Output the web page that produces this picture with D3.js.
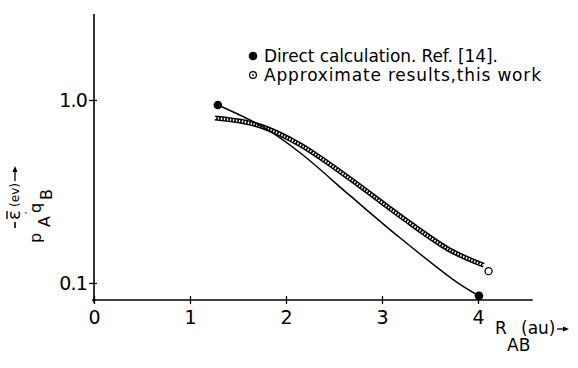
<!doctype html>
<html lang="en">
<head>
  <meta charset="utf-8">
  <title>Pair energy vs R_AB</title>
  <script src="https://cdnjs.cloudflare.com/ajax/libs/d3/7.8.5/d3.min.js"></script>
  <style>
    body { margin: 0; background: #fff; }
    text { font-family: "DejaVu Sans", "Liberation Sans", sans-serif; fill: #000; }
  </style>
</head>
<body>
<script>
  // values (R in au, -eps in eV)
  const directR = [1.29, 1.76, 2.15, 2.67, 3.19, 3.79, 4.01];
  const directE = [0.939, 0.712, 0.513, 0.299, 0.176, 0.100, 0.085];
  const approxR = [1.26, 1.57, 1.76, 2.15, 2.67, 3.19, 3.71, 4.06, 4.11];
  const approxE = [0.797, 0.758, 0.712, 0.568, 0.370, 0.232, 0.151, 0.125, 0.116];
  const xTicks = [0, 1, 2, 3, 4];
  const yTicks = [0.1, 1.0];
  const yTickLabels = ["0.1", "1.0"];
  const legendLabels = ["Direct calculation. Ref. [14].", "Approximate results,this work"];
  const legendWidths = [234, 277];

  const W = 578, H = 368;
  const svg = d3.select("body").append("svg")
    .attr("width", W).attr("height", H)
    .attr("xmlns", "http://www.w3.org/2000/svg");

  let x = d3.scaleLinear().domain([0, 4]).range([94, 478]);
  let y = d3.scaleLog().domain([0.0807, 2.95]).range([300, 14]);

  // axes lines
  svg.append("line").attr("x1", 94).attr("x2", 94).attr("y1", y(2.95)).attr("y2", 303)
    .attr("stroke", "#000").attr("stroke-width", 1.6);
  svg.append("line").attr("x1", 92).attr("x2", x(4.57)).attr("y1", 300).attr("y2", 300)
    .attr("stroke", "#000").attr("stroke-width", 1.6);

  let xAxis = svg.append("g").attr("transform", "translate(0,300)")
    .call(d3.axisBottom(x).tickValues(xTicks).tickSize(4).tickPadding(7).tickFormat(d3.format("d")));
  xAxis.select(".domain").remove();
  xAxis.selectAll(".tick line").attr("y1", -4).attr("stroke-width", 1.3);
  xAxis.selectAll(".tick text").attr("font-size", 19).attr("font-family", "DejaVu Sans");

  let yAxis = svg.append("g").attr("transform", "translate(94,0)")
    .call(d3.axisLeft(y).tickValues(yTicks).tickSize(5).tickPadding(2)
      .tickFormat((d, i) => yTickLabels[i]));
  yAxis.select(".domain").remove();
  yAxis.selectAll(".tick line").attr("x1", 3).attr("stroke-width", 1.3);
  yAxis.selectAll(".tick text").attr("font-size", 19).attr("font-family", "DejaVu Sans")
    .attr("letter-spacing", -0.8);

  const line = d3.line().x(d => x(d[0])).y(d => y(d[1])).curve(d3.curveCatmullRom.alpha(0.5));

  // approximate results: hatched band of small circles
  let approx = approxR.map((r, i) => [r, approxE[i]]);
  let band = approx.slice(0, approx.length - 1);
  svg.append("path").attr("d", line(band)).attr("fill", "none")
    .attr("stroke", "#000").attr("stroke-width", 5);
  svg.append("path").attr("d", line(band)).attr("fill", "none")
    .attr("stroke", "#fff").attr("stroke-width", 2.2).attr("stroke-dasharray", "1.4,1.6");
  let last = approx[approx.length - 1];
  svg.append("circle").attr("cx", x(last[0])).attr("cy", y(last[1])).attr("r", 3.5)
    .attr("fill", "#fff").attr("stroke", "#000").attr("stroke-width", 1.3);

  // direct calculation
  let direct = directR.map((r, i) => [r, directE[i]]);
  svg.append("path").attr("d", line(direct)).attr("fill", "none")
    .attr("stroke", "#000").attr("stroke-width", 1.5);
  svg.selectAll("circle.dir").data([direct[0], direct[direct.length - 1]]).enter()
    .append("circle").attr("class", "dir")
    .attr("cx", d => x(d[0])).attr("cy", d => y(d[1])).attr("r", 4.3).attr("fill", "#000");

  // legend
  svg.append("circle").attr("cx", 253).attr("cy", 56).attr("r", 4.3).attr("fill", "#000");
  svg.append("circle").attr("cx", 253).attr("cy", 75).attr("r", 3.4)
    .attr("fill", "#fff").attr("stroke", "#000").attr("stroke-width", 1.2);
  svg.append("circle").attr("cx", 253).attr("cy", 75).attr("r", 0.9).attr("fill", "#000");
  svg.selectAll("text.leg").data(legendLabels).enter().append("text").attr("class", "leg")
    .attr("x", 264).attr("y", (d, i) => 62 + i * 19)
    .attr("font-size", 17).attr("textLength", (d, i) => legendWidths[i])
    .attr("lengthAdjust", "spacing").text(d => d);

  // x axis title
  let xt = svg.append("g");
  xt.append("text").attr("x", 495).attr("y", 334).attr("font-size", 17).text("R");
  xt.append("text").attr("x", 521).attr("y", 334).attr("font-size", 17).text("(au)");
  xt.append("text").attr("x", 507).attr("y", 351).attr("font-size", 17).text("AB");
  xt.append("line").attr("x1", 557).attr("x2", 566).attr("y1", 329).attr("y2", 329)
    .attr("stroke", "#000").attr("stroke-width", 1.3);
  xt.append("path").attr("d", "M569,329 L563,326.5 L563,331.5 Z").attr("fill", "#000");

  // y axis title, rotated
  let yt = svg.append("g").attr("transform", "translate(20,230) rotate(-90)");
  yt.append("line").attr("x1", 2).attr("x2", 8).attr("y1", -5).attr("y2", -5)
    .attr("stroke", "#000").attr("stroke-width", 1.6);
  yt.append("text").attr("x", 10).attr("y", 0).attr("font-size", 18).text("\u03b5");
  yt.append("line").attr("x1", 11).attr("x2", 19).attr("y1", -13).attr("y2", -13)
    .attr("stroke", "#000").attr("stroke-width", 1.4);
  yt.append("text").attr("x", 23).attr("y", -1).attr("font-size", 13)
    .attr("textLength", 24).attr("lengthAdjust", "spacingAndGlyphs").text("(ev)");
  yt.append("line").attr("x1", 49).attr("x2", 60).attr("y1", -5).attr("y2", -5)
    .attr("stroke", "#000").attr("stroke-width", 1.3);
  yt.append("path").attr("d", "M64,-5 L58,-7.5 L58,-2.5 Z").attr("fill", "#000");
  yt.append("text").attr("x", -13).attr("y", 21).attr("font-size", 16).text("p");
  yt.append("text").attr("x", 3).attr("y", 30).attr("font-size", 16).text("A");
  yt.append("text").attr("x", 14).attr("y", 14).attr("font-size", 11).text("\u00b4");
  yt.append("text").attr("x", 17).attr("y", 21).attr("font-size", 16).text("q");
  yt.append("text").attr("x", 30).attr("y", 32).attr("font-size", 16).text("B");
</script>
</body>
</html>
